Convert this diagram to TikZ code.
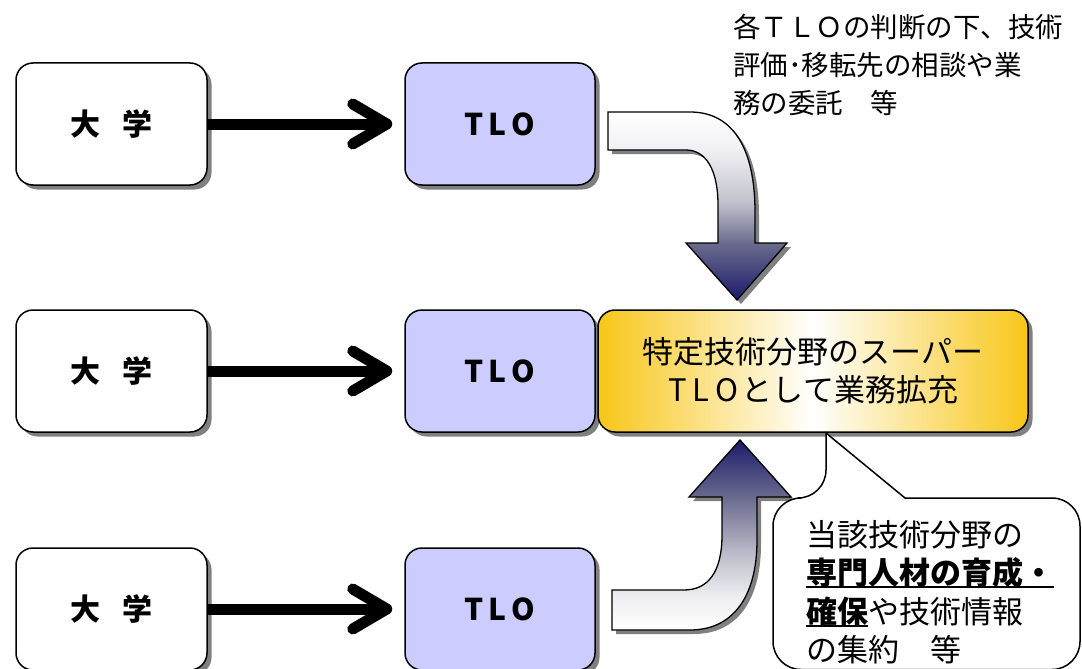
\documentclass[tikz,border=0pt]{standalone}
\usepackage{fontspec}
\setmainfont{Noto Sans CJK JP}
\usetikzlibrary{arrows.meta,shadows}
\definecolor{tlofill}{HTML}{CCCCFF}
\definecolor{gold}{RGB}{248,198,24}
\definecolor{shadowgray}{HTML}{808080}
\definecolor{navyA}{HTML}{1C1C6A}
\definecolor{midA}{HTML}{6A6A8E}
\definecolor{lightA}{HTML}{C2C2CE}
\definecolor{paleA}{HTML}{F0F0F4}
\pgfdeclareverticalshading{arrdown}{100bp}{color(0bp)=(navyA); color(25bp)=(navyA); color(40bp)=(midA); color(51bp)=(lightA); color(65bp)=(paleA); color(75bp)=(white); color(100bp)=(white)}
\pgfdeclareverticalshading{arrup}{100bp}{color(0bp)=(white); color(25bp)=(white); color(33bp)=(paleA); color(44bp)=(lightA); color(60bp)=(midA); color(75bp)=(navyA); color(100bp)=(navyA)}
\def\pathdown{(608,112) -- (690,112) .. controls (734,112) and (755,150) .. (755,212) -- (755,243) -- (787,243) -- (737,300) -- (686,243) -- (718,243) -- (718,205) .. controls (718,170) and (706,150) .. (686,150) -- (608,150) -- cycle}
\def\pathup{(612,590) -- (684,590) .. controls (708,590) and (722,572) .. (722,535) -- (722,497) -- (689,497) -- (740,440) -- (791,497) -- (757,497) -- (757,540) .. controls (757,598) and (732,630) .. (690,630) -- (612,630) -- cycle}
\newcommand\jpul[1]{\leavevmode\setbox0\hbox{#1}\rlap{\rule[-3.5pt]{\wd0}{1.6pt}}\box0}
\begin{document}
\begin{tikzpicture}[x=1pt,y=-1pt,
  box/.style={draw=black, line width=1.5pt, rounded corners=17pt, minimum height=122pt, inner sep=0pt, align=center,
    general shadow={fill=shadowgray, shadow xshift=4.5pt, shadow yshift=-4.5pt}},
  ubox/.style={box, fill=white, minimum width=191pt, font=\bfseries\fontsize{30}{36}\selectfont},
  tbox/.style={box, fill=tlofill, minimum width=190pt, font=\bfseries\fontsize{30}{36}\selectfont},
  ybox/.style={box, left color=gold, right color=gold, middle color=white, minimum width=430pt, font=\fontsize{31}{38}\selectfont},
  conn/.style={line width=11pt, -{Straight Barb[length=34pt,width=40pt,round]}, shorten >=12pt},
  bigarrow/.style={draw=black, line width=1.3pt, line join=miter},
  arrshadow/.style={fill=shadowgray, shift={(4,4)}},
  callout/.style={draw=black, line width=1.5pt, fill=white},
  note/.style={anchor=west, align=left, inner sep=0pt}]
\useasboundingbox (0,0) rectangle (1082,669);
\clip (0,0) rectangle (1082,669);
\fill[white] (0,0) rectangle (1082,669);
% boxes
\node[ubox] (u1) at (111.5,124) {大\hspace{22pt}学};
\node[ubox] (u2) at (111.5,371) {大\hspace{22pt}学};
\node[ubox] (u3) at (111.5,609) {大\hspace{22pt}学};
\node[tbox] (t1) at (500,124) {T\hspace{5pt}L\hspace{5pt}O};
\node[tbox] (t2) at (500,371) {T\hspace{5pt}L\hspace{5pt}O};
\node[tbox] (t3) at (500,609) {T\hspace{5pt}L\hspace{5pt}O};
\node[ybox] (sp) at (813,371) {特定技術分野のスーパー\\T\hspace{.2em}L\hspace{.2em}O\hspace{.1em}として業務拡充};
% connectors
\draw[conn] (u1) -- (t1);
\draw[conn] (u2) -- (t2);
\draw[conn] (u3) -- (t3);
% curved block arrows
\fill[arrshadow] \pathdown;
\shadedraw[bigarrow, shading=arrdown] \pathdown;
\fill[arrshadow] \pathup;
\shadedraw[bigarrow, shading=arrup] \pathup;
% callout
\draw[callout] (826,498) -- (826,433) -- (905,498) -- (1000,498) [rounded corners=28pt] -- (1080,498) -- (1080,669.5) -- (773,669.5) -- (773,498) -- cycle;
% texts
\node[note, font=\fontsize{27.5}{38}\selectfont] (n1) at (733,65) {各ＴＬＯの判断の下、技術\\評価･移転先の相談や業\\務の委託　等};
\node[note, font=\fontsize{31}{38.5}\selectfont] (n2) at (806,592) {当該技術分野の\\\jpul{\textbf{専門人材の育成・}}\\\jpul{\textbf{確保}}や技術情報\\の集約　等};
\end{tikzpicture}
\end{document}
